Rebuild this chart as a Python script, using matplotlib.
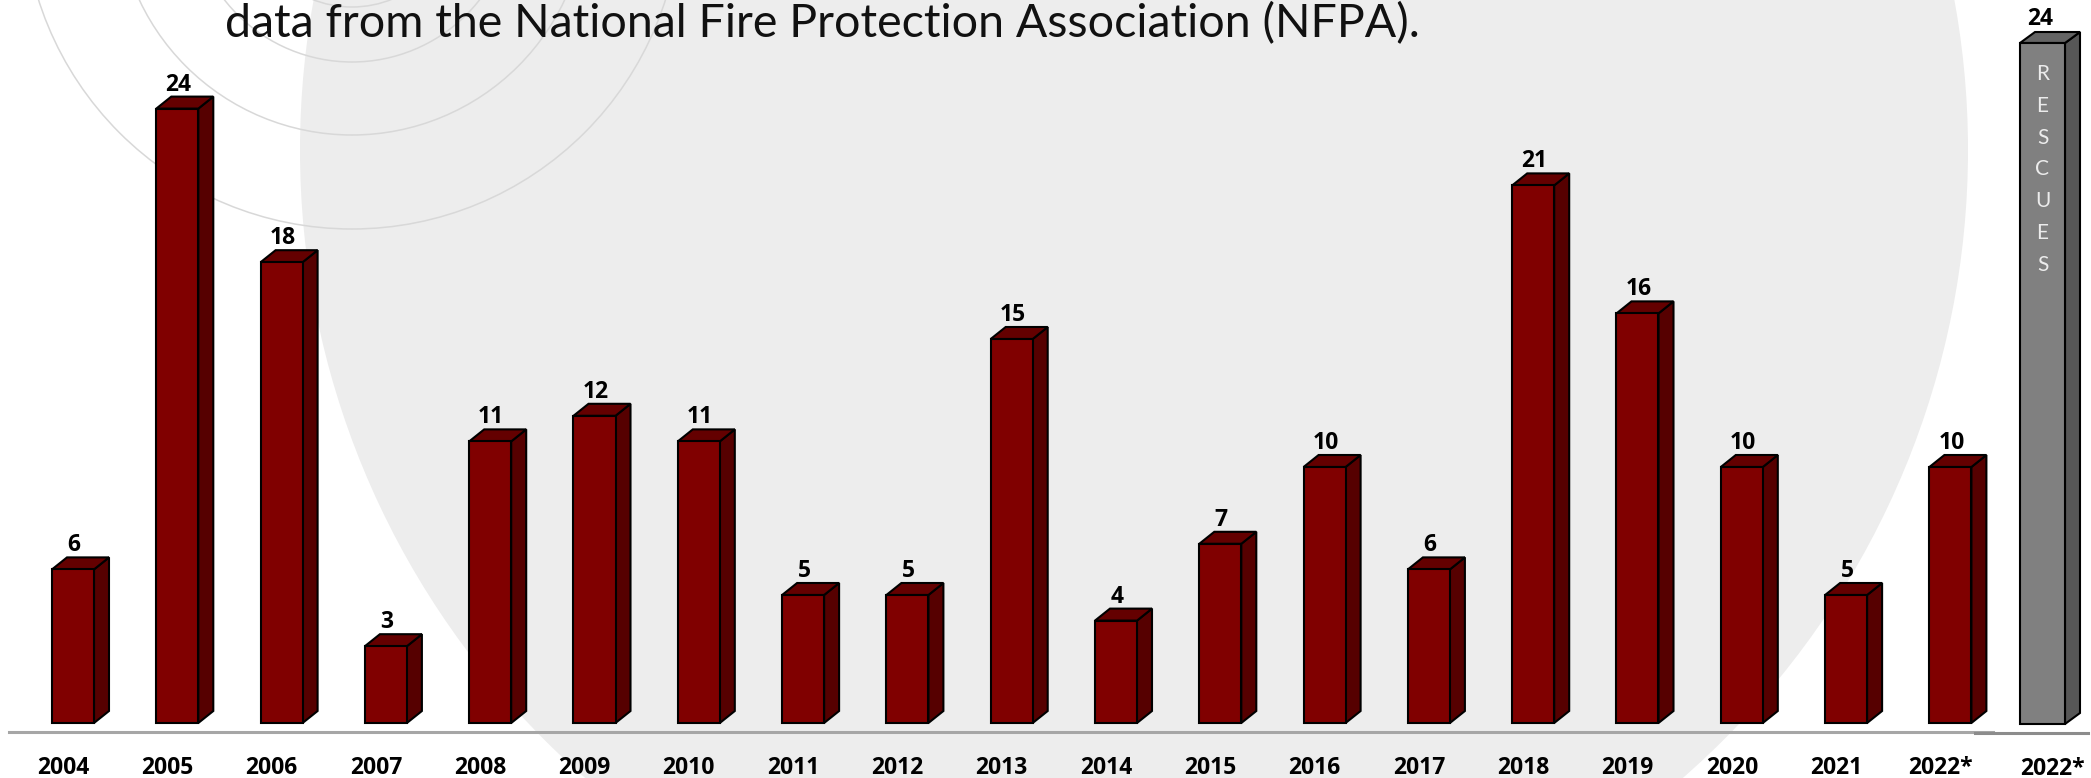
import matplotlib
matplotlib.use('Agg')
import matplotlib.pyplot as plt
from matplotlib.patches import Polygon, Circle

# ---------------- data ----------------
years = ['2004', '2005', '2006', '2007', '2008', '2009', '2010', '2011', '2012',
         '2013', '2014', '2015', '2016', '2017', '2018', '2019', '2020', '2021', '2022*']
values = [6, 24, 18, 3, 11, 12, 11, 5, 5, 15, 4, 7, 10, 6, 21, 16, 10, 5, 10]
rescue_label = '2022*'
rescue_value = 24
rescue_text = 'RESCUES'
title = 'data from the National Fire Protection Association (NFPA).'

# ---------------- layout ----------------
W, H = 2091, 778
fig = plt.figure(figsize=(W / 100, H / 100), dpi=100)
fig.patch.set_facecolor('white')
PT = 0.72  # points per pixel at 100 dpi

# background decoration (pixel space)
bg = fig.add_axes([0, 0, 1, 1])
bg.set_xlim(0, W)
bg.set_ylim(H, 0)
bg.axis('off')
bg.add_patch(Circle((1134, 150), 834, fc='#ededed', ec='none', zorder=0))
for r in [107, 162, 235, 329]:
    bg.add_patch(Circle((352, -100), r, fc='none', ec='#d8d8d8', lw=1.1, zorder=1))

# title
t = fig.text(225 / W, 1 - 37 / H, title, fontsize=30, family=['Lato', 'DejaVu Sans'],
             weight='normal', va='baseline', ha='left', color='#111111', zorder=5)
fig.canvas.draw()
ext = t.get_window_extent()
t.set_fontsize(30 * 1193 / ext.width)

LABEL_FONT = ['Open Sans', 'DejaVu Sans']
LFS = 16.5


def bar3d(ax, x, v, w, dx, dy, cf, cs, ct):
    front = Polygon([(x - w / 2, 0), (x + w / 2, 0), (x + w / 2, v), (x - w / 2, v)],
                    closed=True, fc=cf, ec='black', lw=1.5, joinstyle='miter', zorder=3)
    side = Polygon([(x + w / 2, 0), (x + w / 2 + dx, dy), (x + w / 2 + dx, v + dy), (x + w / 2, v)],
                   closed=True, fc=cs, ec='black', lw=1.5, joinstyle='miter', zorder=3)
    top = Polygon([(x - w / 2, v), (x + w / 2, v), (x + w / 2 + dx, v + dy), (x - w / 2 + dx, v + dy)],
                  closed=True, fc=ct, ec='black', lw=1.5, joinstyle='miter', zorder=3)
    for p in (side, top, front):
        ax.add_patch(p)


# main axes
xs = 104.3      # px per category
x0 = 73.0       # px of first bar centre
ys = 25.6       # px per unit
base = 723.0    # px of baseline from top
ax = fig.add_axes([0, 0, 1, 1])
ax.set_facecolor('none')
ax.set_xlim(-x0 / xs, (W - x0) / xs)
ax.set_ylim(-(H - base) / ys, base / ys)
ax.axis('off')

w = 42 / xs
dx = 15 / xs
dy = 12 / ys
for i, (yr, v) in enumerate(zip(years, values)):
    bar3d(ax, i, v, w, dx, dy, '#800000', '#560000', '#640000')
    ax.annotate(str(v), xy=(i, v + dy), xytext=(1 * PT, 6 * PT), textcoords='offset points',
                ha='center', va='baseline', fontsize=LFS, fontweight='bold',
                family=LABEL_FONT, color='black', zorder=4)
    ax.annotate(yr, xy=(i, 0), xytext=(-10 * PT, -51 * PT), textcoords='offset points',
                ha='center', va='baseline', fontsize=LFS, fontweight='bold',
                family=LABEL_FONT, color='black', zorder=4)

ax.axhline(-8.5 / ys, xmin=9 / W, xmax=1993 / W, color='#a6a6a6', lw=2.2, zorder=2)

# rescue axes (separate scale)
xc2 = 2042.5
ys2 = 681 / 24
base2 = 724.0
ax2 = fig.add_axes([0, 0, 1, 1])
ax2.set_facecolor('none')
ax2.set_xlim(-xc2 / xs, (W - xc2) / xs)
ax2.set_ylim(-(H - base2) / ys2, base2 / ys2)
ax2.axis('off')
w2 = 45 / xs
dy2 = 11 / ys2
bar3d(ax2, 0, rescue_value, w2, dx, dy2, '#808080', '#575757', '#646464')
ax2.annotate(str(rescue_value), xy=(0, rescue_value + dy2), xytext=(-2 * PT, 7 * PT),
             textcoords='offset points', ha='center', va='baseline', fontsize=LFS,
             fontweight='bold', family=LABEL_FONT, color='black', zorder=4)
ax2.annotate(rescue_label, xy=(0, 0), xytext=(9.5 * PT, -51 * PT), textcoords='offset points',
             ha='center', va='baseline', fontsize=LFS, fontweight='bold',
             family=LABEL_FONT, color='black', zorder=4)
for k, ch in enumerate(rescue_text):
    ax2.annotate(ch, xy=(0, rescue_value), xytext=(0, -(31 + 31.8 * k) * PT),
                 textcoords='offset points', ha='center', va='center', fontsize=15,
                 family=['Lato', 'DejaVu Sans'], color='#ececec', zorder=4)
ax2.axhline(-8.5 / ys2, xmin=1975 / W, xmax=2088 / W, color='#8c8c8c', lw=2.2, zorder=2)

fig.savefig('out.png', dpi=100, facecolor='white')
